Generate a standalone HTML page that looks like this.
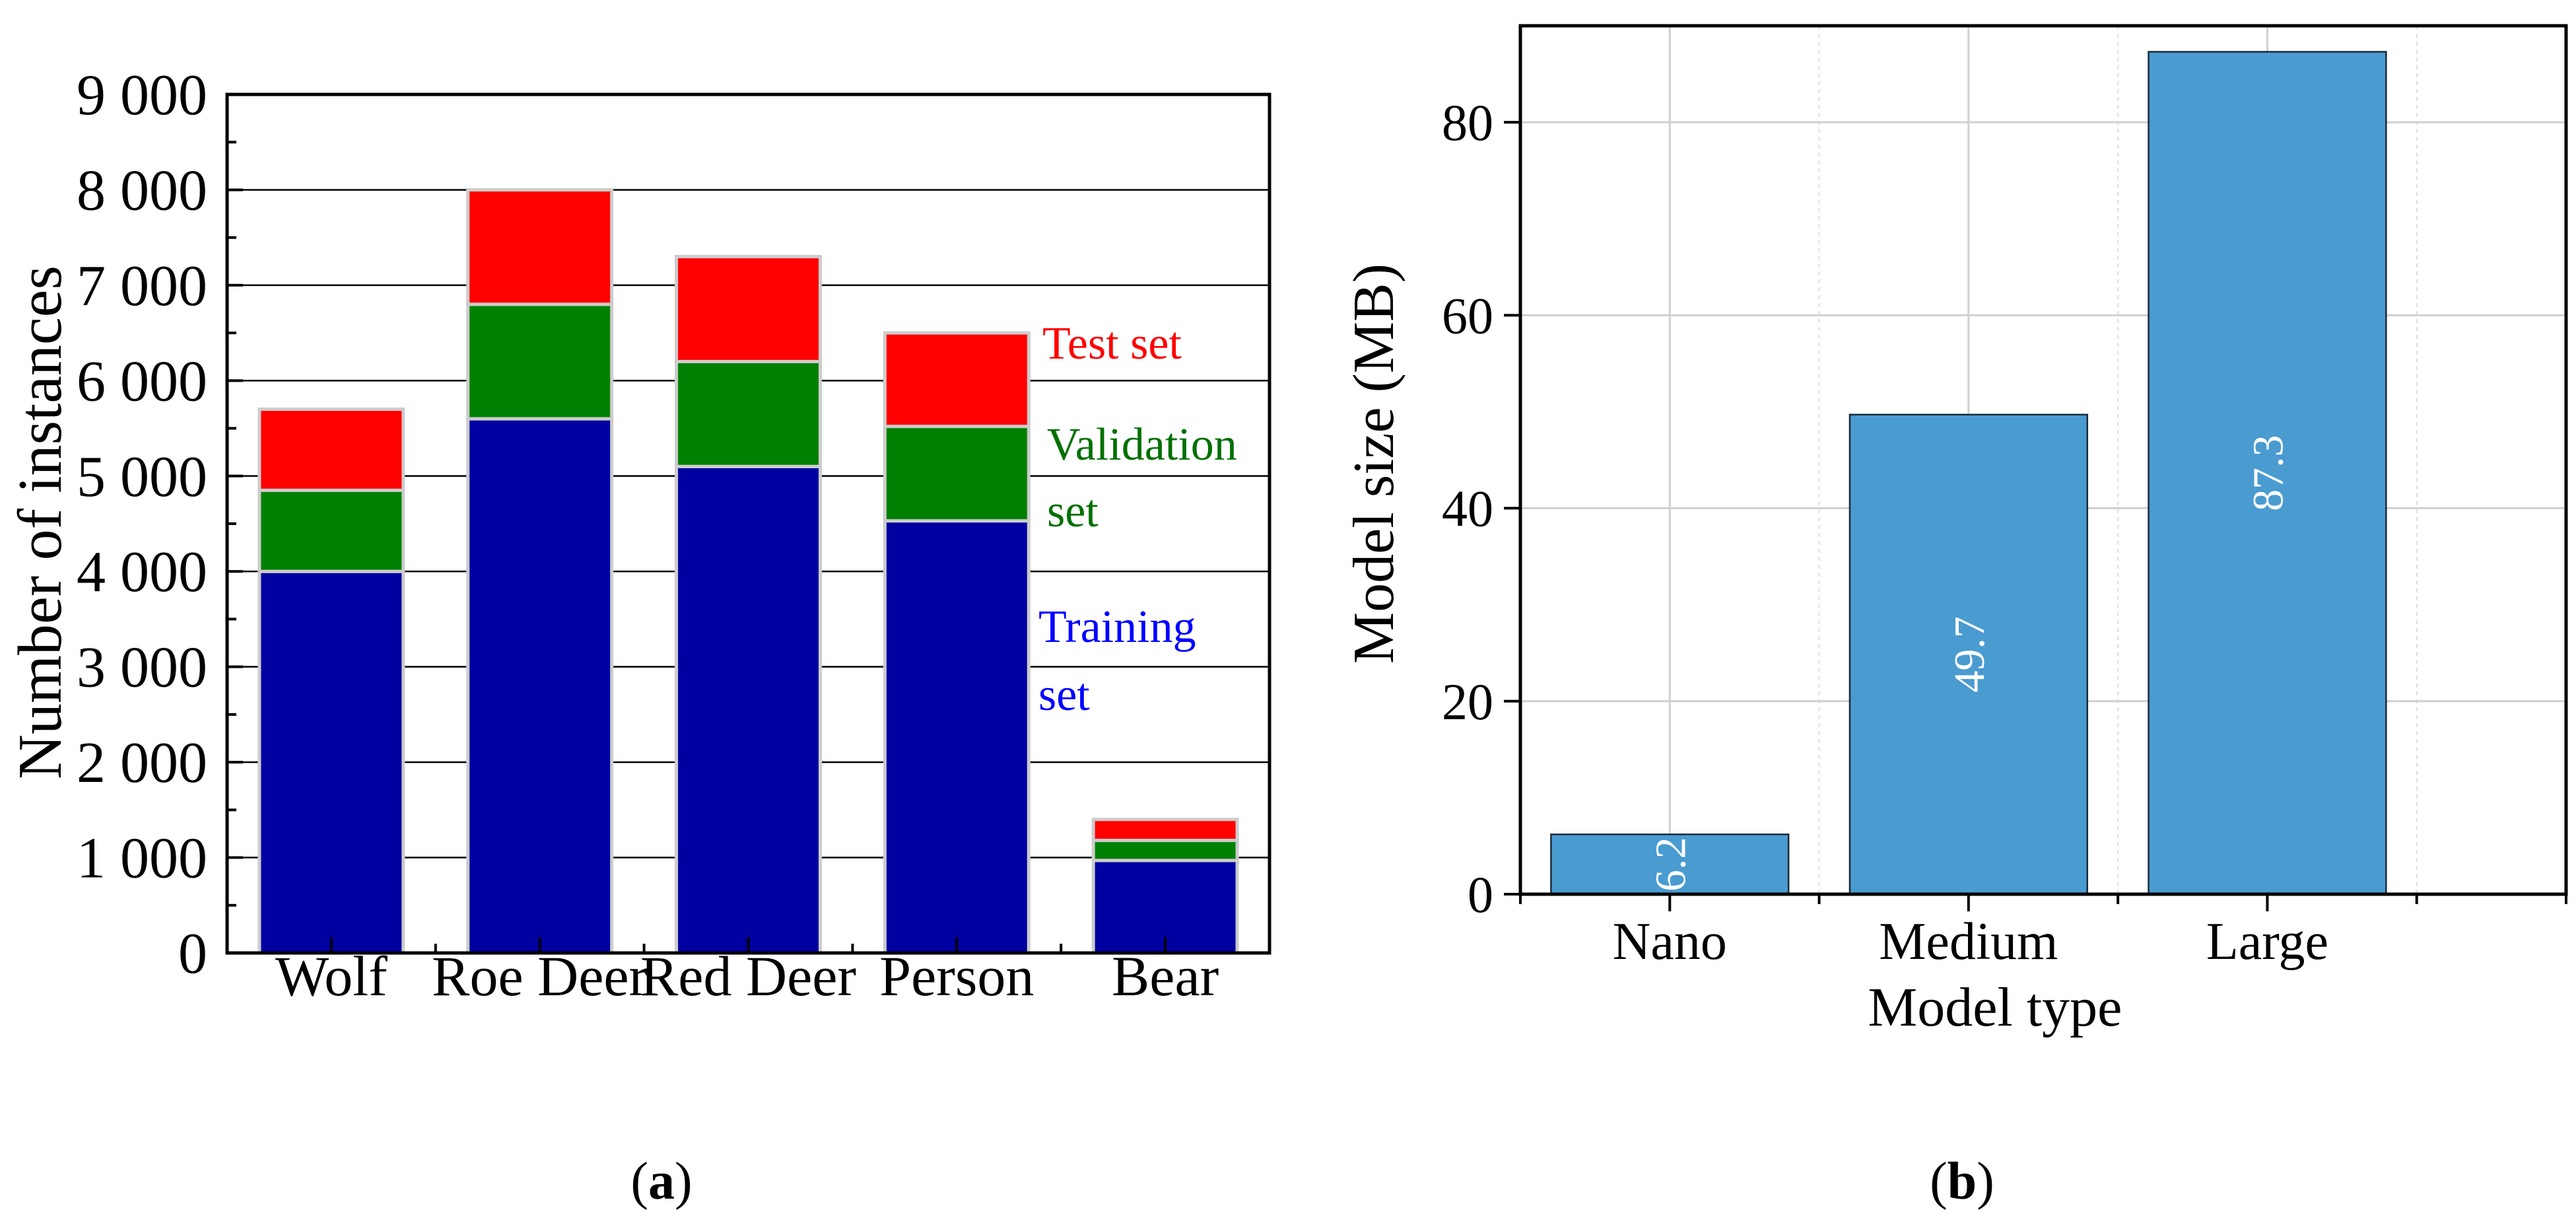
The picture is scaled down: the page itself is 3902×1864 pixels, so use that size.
<!DOCTYPE html>
<html><head><meta charset="utf-8"><style>
html,body{margin:0;padding:0;background:#fff;}
svg{display:block;font-family:"Liberation Serif",serif;}
</style></head><body>
<svg id="fig" width="3902" height="1864" viewBox="0 0 3902 1864" xmlns="http://www.w3.org/2000/svg">
<g id="chartA"></g>
<g id="chartB"></g>
<text x="1002" y="1815" font-size="80" text-anchor="middle">(<tspan font-weight="bold">a</tspan>)</text>
<text x="2972" y="1815" font-size="80" text-anchor="middle">(<tspan font-weight="bold">b</tspan>)</text>
</svg>
<script>
// Chart A data
const catsA = ["Wolf","Roe Deer","Red Deer","Person","Bear"];
const trainA = [4000,5600,5100,4530,970];
const valA = [850,1200,1100,990,210];
const testA = [850,1200,1100,980,220];
const yTicksA = [0,1000,2000,3000,4000,5000,6000,7000,8000,9000];
const yTickLabelsA = ["0","1 000","2 000","3 000","4 000","5 000","6 000","7 000","8 000","9 000"];
// Chart B data
const catsB = ["Nano","Medium","Large"];
const sizeB = [6.2,49.7,87.3];
const sizeLabelsB = ["6.2","49.7","87.3"];
const yTicksB = [0,20,40,60,80];

const NS="http://www.w3.org/2000/svg";
function mk(parent,tag,attrs,text){const e=document.createElementNS(NS,tag);for(const k in attrs)e.setAttribute(k,attrs[k]);if(text!==undefined)e.textContent=text;parent.appendChild(e);return e;}

// ---- Chart A ----
const gA=document.getElementById('chartA');
const aL=344,aR=1923,aT=143,aB=1443,aMax=9000;
const yA=v=>aB-(v/aMax)*(aB-aT);
const bandA=(aR-aL)/catsA.length;
const xA=i=>aL+bandA*(i+0.5);
yTicksA.forEach((t,i)=>{
  if(t>0&&t<aMax){const l=mk(gA,'line',{x1:aL,x2:aR,y1:yA(t),y2:yA(t),stroke:'#000','stroke-width':2.5});
  
  }
  const tx=mk(gA,'text',{x:314,y:yA(t)+30,'font-size':88,'text-anchor':'end'},yTickLabelsA[i]);
  
  
});
const bwA=bandA*0.69;
catsA.forEach((c,i)=>{
  const segs=[[0,trainA[i],'#0000a0'],[trainA[i],trainA[i]+valA[i],'#008000'],[trainA[i]+valA[i],trainA[i]+valA[i]+testA[i],'#ff0000']];
  const names=['bar-train-','bar-val-','bar-test-'];
  segs.forEach((s,j)=>{
    const r=mk(gA,'rect',{x:xA(i)-bwA/2,y:yA(s[1]),width:bwA,height:yA(s[0])-yA(s[1]),fill:s[2],stroke:'#cccccc','stroke-width':5});
    
    
  });
  const lb=mk(gA,'text',{x:xA(i),y:1507,'font-size':86,'text-anchor':'middle'},c);
  
  
  mk(gA,'line',{x1:xA(i),x2:xA(i),y1:aB,y2:aB-24,stroke:'#000','stroke-width':4});
  if(i>0)mk(gA,'line',{x1:aL+bandA*i,x2:aL+bandA*i,y1:aB,y2:aB-14,stroke:'#000','stroke-width':4});
});
for(let v=500;v<aMax;v+=1000)mk(gA,'line',{x1:aL,x2:aL+14,y1:yA(v),y2:yA(v),stroke:'#000','stroke-width':4});
yTicksA.forEach(t=>mk(gA,'line',{x1:aL,x2:aL+24,y1:yA(t),y2:yA(t),stroke:'#000','stroke-width':4}));
mk(gA,'rect',{x:aL,y:aT,width:aR-aL,height:aB-aT,fill:'none',stroke:'#000','stroke-width':5,});
mk(gA,'text',{x:0,y:0,'font-size':94,'text-anchor':'middle',transform:'translate(92,791) rotate(-90)',},'Number of instances');
mk(gA,'text',{x:1579,y:543,'font-size':70,fill:'#ff0000',},'Test set');
mk(gA,'text',{x:1586,y:696,'font-size':70,fill:'#007000',},'Validation');
mk(gA,'text',{x:1586,y:797,'font-size':70,fill:'#007000',},'set');
mk(gA,'text',{x:1573,y:972,'font-size':70,fill:'#0000ff',},'Training');
mk(gA,'text',{x:1573,y:1075,'font-size':70,fill:'#0000ff',},'set');

// ---- Chart B ----
const gB=document.getElementById('chartB');
const bL=2303,bR=3887,bT=39,bB=1354,bMax=90;
const yB=v=>bB-(v/bMax)*(bB-bT);
const step=(bR-bL)/3.5;
const xB=i=>bL+step*(i+0.5);
for(let k=0;k<4;k++){const x=bL+step*(k+1);
  mk(gB,'line',{x1:x,x2:x,y1:bT,y2:bB,stroke:'#dddddd','stroke-width':2,'stroke-dasharray':'6,6'});}
catsB.forEach((c,i)=>mk(gB,'line',{x1:xB(i),x2:xB(i),y1:bT,y2:bB,stroke:'#d0d0d0','stroke-width':3}));
yTicksB.forEach(t=>{
  if(t>0){const l=mk(gB,'line',{x1:bL,x2:bR,y1:yB(t),y2:yB(t),stroke:'#d0d0d0','stroke-width':3});
  
  }
  mk(gB,'line',{x1:bL,x2:bL-25,y1:yB(t),y2:yB(t),stroke:'#000','stroke-width':4});
  const tx=mk(gB,'text',{x:2262,y:yB(t)+27,'font-size':78,'text-anchor':'end'},String(t));
  
  
});
const bwB=step*0.795;
catsB.forEach((c,i)=>{
  const r=mk(gB,'rect',{x:xB(i)-bwB/2,y:yB(sizeB[i]),width:bwB,height:bB-yB(sizeB[i]),fill:'#4a9bd0',stroke:'#1a2a3a','stroke-width':2.5});
  
  
  const my=(yB(sizeB[i])+bB)/2;
  const v=mk(gB,'text',{x:0,y:0,'font-size':66,fill:'#fff','text-anchor':'middle',transform:`translate(${xB(i)+23},${my}) rotate(-90)`},sizeLabelsB[i]);
  
  
  const lb=mk(gB,'text',{x:xB(i),y:1452,'font-size':80,'text-anchor':'middle'},c);
  
  
  mk(gB,'line',{x1:xB(i),x2:xB(i),y1:bB,y2:bB+26,stroke:'#000','stroke-width':4});
});
for(let k=0;k<4;k++){const x=bL+step*k;mk(gB,'line',{x1:x,x2:x,y1:bB,y2:bB+15,stroke:'#000','stroke-width':4});}
mk(gB,'line',{x1:bR,x2:bR,y1:bB,y2:bB+15,stroke:'#000','stroke-width':4});
mk(gB,'rect',{x:bL,y:bT,width:bR-bL,height:bB-bT,fill:'none',stroke:'#000','stroke-width':5,});
mk(gB,'text',{x:3022,y:1553,'font-size':84,'text-anchor':'middle',},'Model type');
mk(gB,'text',{x:0,y:0,'font-size':88,'text-anchor':'middle',transform:'translate(2110,702) rotate(-90)',},'Model size (MB)');
</script>
</body></html>
